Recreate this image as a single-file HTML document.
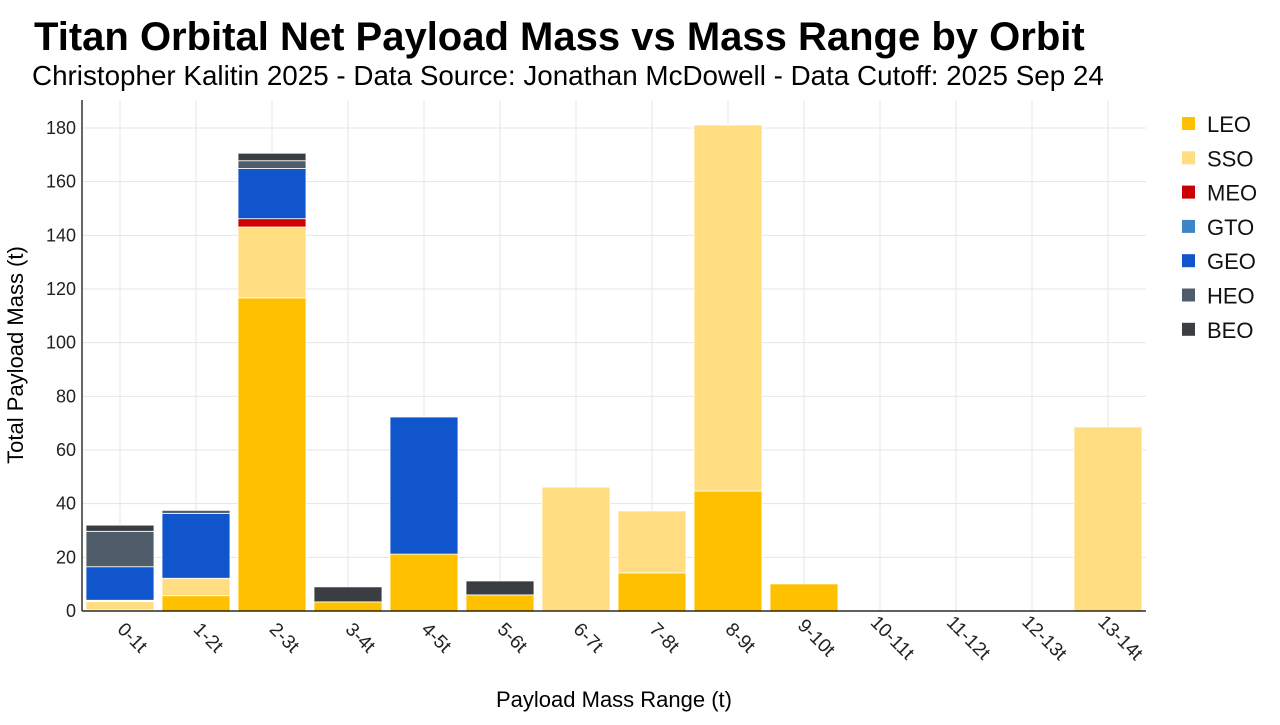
<!DOCTYPE html>
<html><head><meta charset="utf-8"><style>
body{margin:0;background:#fff;font-family:"Liberation Sans",Arial,sans-serif;}
svg text{font-family:"Liberation Sans",Arial,sans-serif;}
</style></head><body>
<svg id="c" width="1280" height="720" viewBox="0 0 1280 720">
<text x="34" y="50" font-size="40" font-weight="bold" fill="#000">Titan Orbital Net Payload Mass vs Mass Range by Orbit</text>
<text x="32" y="85" font-size="27.8" fill="#000">Christopher Kalitin 2025 - Data Source: Jonathan McDowell - Data Cutoff: 2025 Sep 24</text>
<g id="grid"></g><g id="bars"></g><g id="axes"></g><g id="legend"></g>
<text x="614" y="707" font-size="22" text-anchor="middle">Payload Mass Range (t)</text>
<text transform="translate(23,355) rotate(-90)" font-size="22" text-anchor="middle">Total Payload Mass (t)</text>
</svg>
<script>
const categories=["0-1t","1-2t","2-3t","3-4t","4-5t","5-6t","6-7t","7-8t","8-9t","9-10t","10-11t","11-12t","12-13t","13-14t"];
const seriesNames=["LEO","SSO","MEO","GTO","GEO","HEO","BEO"];
const seriesColors=["#ffc000","#ffdd80","#cc0000","#3d85c6","#1155cc","#4f5d6a","#3a3d42"];
const LEO=[0.4,5.7,116.7,3.4,21.2,6.0,0,14.2,44.7,10.1,0,0,0,0];
const SSO=[3.1,6.5,26.4,0,0,0,46.2,23.1,136.4,0,0,0,0,68.6];
const MEO=[0.3,0,3.1,0,0,0,0,0,0,0,0,0,0,0];
const GTO=[0.2,0,0,0,0,0,0,0,0,0,0,0,0,0];
const GEO=[12.5,24.2,18.7,0,51.1,0,0,0,0,0,0,0,0,0];
const HEO=[13.2,1.1,2.9,0,0,0,0,0,0,0,0,0,0,0];
const BEO=[2.3,0,2.8,5.6,0,5.2,0,0,0,0,0,0,0,0];
const yTicks=[0,20,40,60,80,100,120,140,160,180];
const series=[LEO,SSO,MEO,GTO,GEO,HEO,BEO];
const NS="http://www.w3.org/2000/svg";
const X0=82,X1=1146,Y0=611,YTOP=100;
const step=(X1-X0)/categories.length;
const xc=i=>X0+step*(i+0.5);
const y=v=>Y0-v*(611-128)/180;
function mk(t,a,p){const e=document.createElementNS(NS,t);for(const k in a)e.setAttribute(k,a[k]);p.appendChild(e);return e;}
const grid=document.getElementById('grid'),bars=document.getElementById('bars'),axes=document.getElementById('axes'),leg=document.getElementById('legend');
yTicks.forEach(t=>{
 const l=mk('line',{x1:X0,x2:X1,y1:y(t),y2:y(t),stroke:'#e5e5e5','stroke-width':1},grid);
 
 
 const tx=mk('text',{x:X0-6,y:y(t)+6,'font-size':18,'text-anchor':'end',fill:'#222'},axes);
 tx.textContent=t;
 
 
});
categories.forEach((c,i)=>{
 const l=mk('line',{x1:xc(i),x2:xc(i),y1:YTOP,y2:Y0,stroke:'#e5e5e5','stroke-width':1},grid);
 
 
 const tx=mk('text',{transform:`translate(${xc(i)+8},${642}) rotate(45)`,'font-size':19,'text-anchor':'middle',fill:'#222'},axes);
 tx.textContent=c;
 
 
 let base=0;
 series.forEach((s,k)=>{
  const v=s[i]; if(!v) return;
  const r=mk('rect',{x:xc(i)-34,width:68,y:y(base+v),height:y(base)-y(base+v),fill:seriesColors[k],stroke:'#fff','stroke-width':0.8},bars);
  
  
  base+=v;
 });
});
const xa=mk('line',{x1:X0,x2:X1,y1:Y0,y2:Y0,stroke:'#000','stroke-width':1.2},axes);


const ya=mk('line',{x1:X0,x2:X0,y1:YTOP,y2:Y0,stroke:'#000','stroke-width':1.2},axes);


seriesNames.forEach((n,k)=>{
 const g=mk('g',{},leg);
 
 
 const yy=124+k*34.3;
 mk('rect',{x:1182,y:yy-7,width:13,height:13,fill:seriesColors[k]},g);
 const t=mk('text',{x:1207,y:yy+8,'font-size':22,fill:'#111'},g);
 t.textContent=n;
});
</script>
</body></html>
